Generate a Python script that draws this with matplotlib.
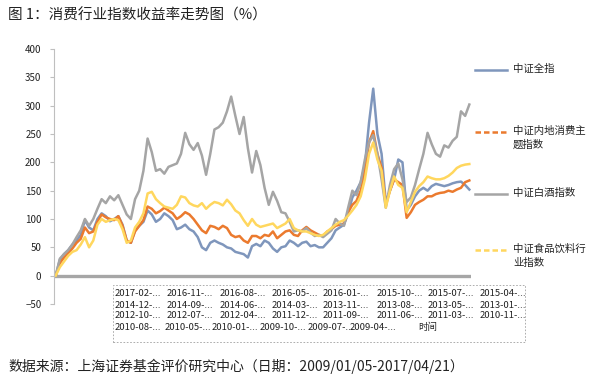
import matplotlib.pyplot as plt
from matplotlib.lines import Line2D
from matplotlib.patches import Rectangle
import numpy as np

plt.rcParams['font.family'] = ['Noto Sans CJK SC', 'DejaVu Sans']

# monthly readings, 2009-01 .. 2017-04 (cumulative return, %)
quanzhi = [0, 28, 38, 45, 55, 62, 72, 98, 85, 80, 100, 110, 105, 96, 100, 105, 90, 62, 58, 80,
           88, 95, 115, 108, 95, 100, 110, 105, 98, 82, 85, 90, 82, 78, 68, 50, 45, 58, 62, 58,
           55, 50, 48, 42, 40, 38, 32, 52, 56, 52, 62, 58, 48, 42, 50, 52, 62, 58, 52, 58,
           60, 52, 54, 50, 50, 58, 66, 80, 85, 90, 110, 138, 150, 165, 195, 270, 330, 250, 215, 130,
           150, 170, 205, 200, 115, 125, 140, 150, 155, 150, 158, 162, 160, 158, 160, 163, 165, 166, 160, 152]
neidi_xiaofei = [0, 22, 32, 40, 48, 58, 65, 85, 75, 78, 95, 108, 103, 100, 98, 105, 88, 62, 58, 78,
                 88, 98, 122, 118, 110, 114, 120, 115, 110, 100, 105, 112, 108, 100, 90, 80, 75, 88, 86, 82,
                 88, 84, 72, 68, 70, 62, 58, 70, 70, 66, 72, 70, 78, 66, 72, 78, 80, 72, 70, 80,
                 86, 80, 76, 72, 70, 78, 82, 88, 90, 92, 112, 125, 132, 150, 185, 235, 255, 215, 190, 125,
                 150, 170, 165, 160, 102, 112, 125, 130, 134, 140, 140, 144, 146, 147, 150, 148, 152, 155, 165, 168]
baijiu = [0, 30, 38, 45, 55, 68, 80, 100, 88, 100, 118, 135, 128, 140, 133, 142, 125, 108, 100, 135,
          150, 185, 242, 218, 185, 188, 180, 192, 195, 198, 215, 252, 232, 222, 234, 212, 178, 215, 258, 262,
          270, 290, 316, 282, 250, 280, 225, 182, 220, 195, 155, 125, 148, 132, 112, 110, 95, 78, 80, 78,
          84, 76, 70, 72, 68, 74, 80, 100, 92, 88, 120, 150, 142, 165, 205, 235, 248, 215, 170, 120,
          160, 188, 198, 170, 130, 138, 160, 188, 215, 252, 232, 215, 210, 230, 226, 238, 245, 290, 282, 302]
shipin_yinliao = [0, 15, 25, 35, 42, 45, 55, 68, 50, 62, 90, 100, 95, 98, 100, 98, 82, 58, 62, 85,
                  95, 110, 145, 148, 135, 128, 122, 120, 118, 125, 140, 138, 128, 124, 122, 128, 118, 125, 130, 128,
                  124, 134, 126, 115, 110, 98, 88, 100, 90, 86, 88, 90, 92, 84, 88, 92, 100, 84, 80, 78,
                  78, 75, 72, 70, 72, 78, 84, 90, 95, 98, 106, 115, 125, 140, 170, 215, 235, 205, 185, 120,
                  150, 175, 160, 155, 112, 130, 148, 158, 165, 175, 172, 170, 170, 172, 176, 182, 190, 194, 196, 197]

series_names = ['中证全指', '中证内地消费主\n题指数', '中证白酒指数', '中证食品饮料行\n业指数']
series_colors = ['#7F96BC', '#EB7A2E', '#A5A5A5', '#FFD75E']
legend_styles = ['-', '--', '-', '--']

tick_rows = [
    ['2017-02-...', '2016-11-...', '2016-08-...', '2016-05-...', '2016-01-...', '2015-10-...', '2015-07-...', '2015-04-...'],
    ['2014-12-...', '2014-09-...', '2014-06-...', '2014-03-...', '2013-11-...', '2013-08-...', '2013-05-...', '2013-01-...'],
    ['2012-10-...', '2012-07-...', '2012-04-...', '2011-12-...', '2011-09-...', '2011-06-...', '2011-03-...', '2010-11-...'],
    ['2010-08-...', '2010-05-...', '2010-01-...', '2009-10-...', '2009-07-...', '2009-04-...', '时间'],
]

W, H = 600, 388


def fx(px):
    return px / W


def fy(py):
    return 1 - py / H


fig = plt.figure(figsize=(6, 3.88), dpi=100)
ax = fig.add_axes([fx(54), fy(304), fx(471) - fx(54), fy(49) - fy(304)])

x = np.arange(len(quanzhi))
ax.axhline(0, color='#A6A6A6', linewidth=2.4, zorder=1)
for vals, c in zip([quanzhi, neidi_xiaofei, baijiu, shipin_yinliao], series_colors):
    ax.plot(x, vals, color=c, linewidth=1.8, zorder=2)

ax.set_xlim(-0.4, len(x) - 0.6)
ax.set_ylim(-50, 400)
ax.set_yticks(np.arange(-50, 401, 50))
ax.tick_params(axis='y', length=3, color='#BFBFBF', labelsize=7, labelcolor='#222222', pad=6)
ax.set_xticks([])
for s in ['top', 'right', 'bottom']:
    ax.spines[s].set_visible(False)
ax.spines['left'].set_color('#BFBFBF')
ax.spines['left'].set_linewidth(0.8)

# category label block under the axis
fig.add_artist(Rectangle((fx(113), fy(342)), fx(525) - fx(113), fy(285) - fy(342),
                         fill=False, edgecolor='#A0A0A0', linestyle=(0, (2, 2)), linewidth=0.6))
col_x = [115, 167, 220, 272, 323, 377, 428, 480]
last_x = [115, 165, 212, 260, 308, 350, 418]
row_y = [294, 305, 316, 327]
for r, labels in enumerate(tick_rows):
    xs = last_x if r == 3 else col_x
    for lab, px in zip(labels, xs):
        fig.text(fx(px), fy(row_y[r]), lab, fontsize=6.8, color='#222222', ha='left', va='center')

# legend
leg_line_y = [70, 132, 194, 250]
for name, c, ls, py in zip(series_names, series_colors, legend_styles, leg_line_y):
    fig.add_artist(Line2D([fx(475), fx(507)], [fy(py), fy(py)], color=c, linestyle=ls,
                          linewidth=1.8, dashes=(2.2, 1.2) if ls == '--' else (None, None)))
    fig.text(fx(513), fy(py - 6), name, fontsize=7.5, color='#222222', ha='left', va='top',
             linespacing=1.45)

fig.text(fx(8), fy(15), '图 1：消费行业指数收益率走势图（%）', fontsize=10.5, color='#222222',
         ha='left', va='center')
fig.text(fx(8), fy(366), '数据来源：上海证券基金评价研究中心（日期：2009/01/05-2017/04/21）',
         fontsize=10, color='#222222', ha='left', va='center')

fig.savefig('out.png', dpi=100)
